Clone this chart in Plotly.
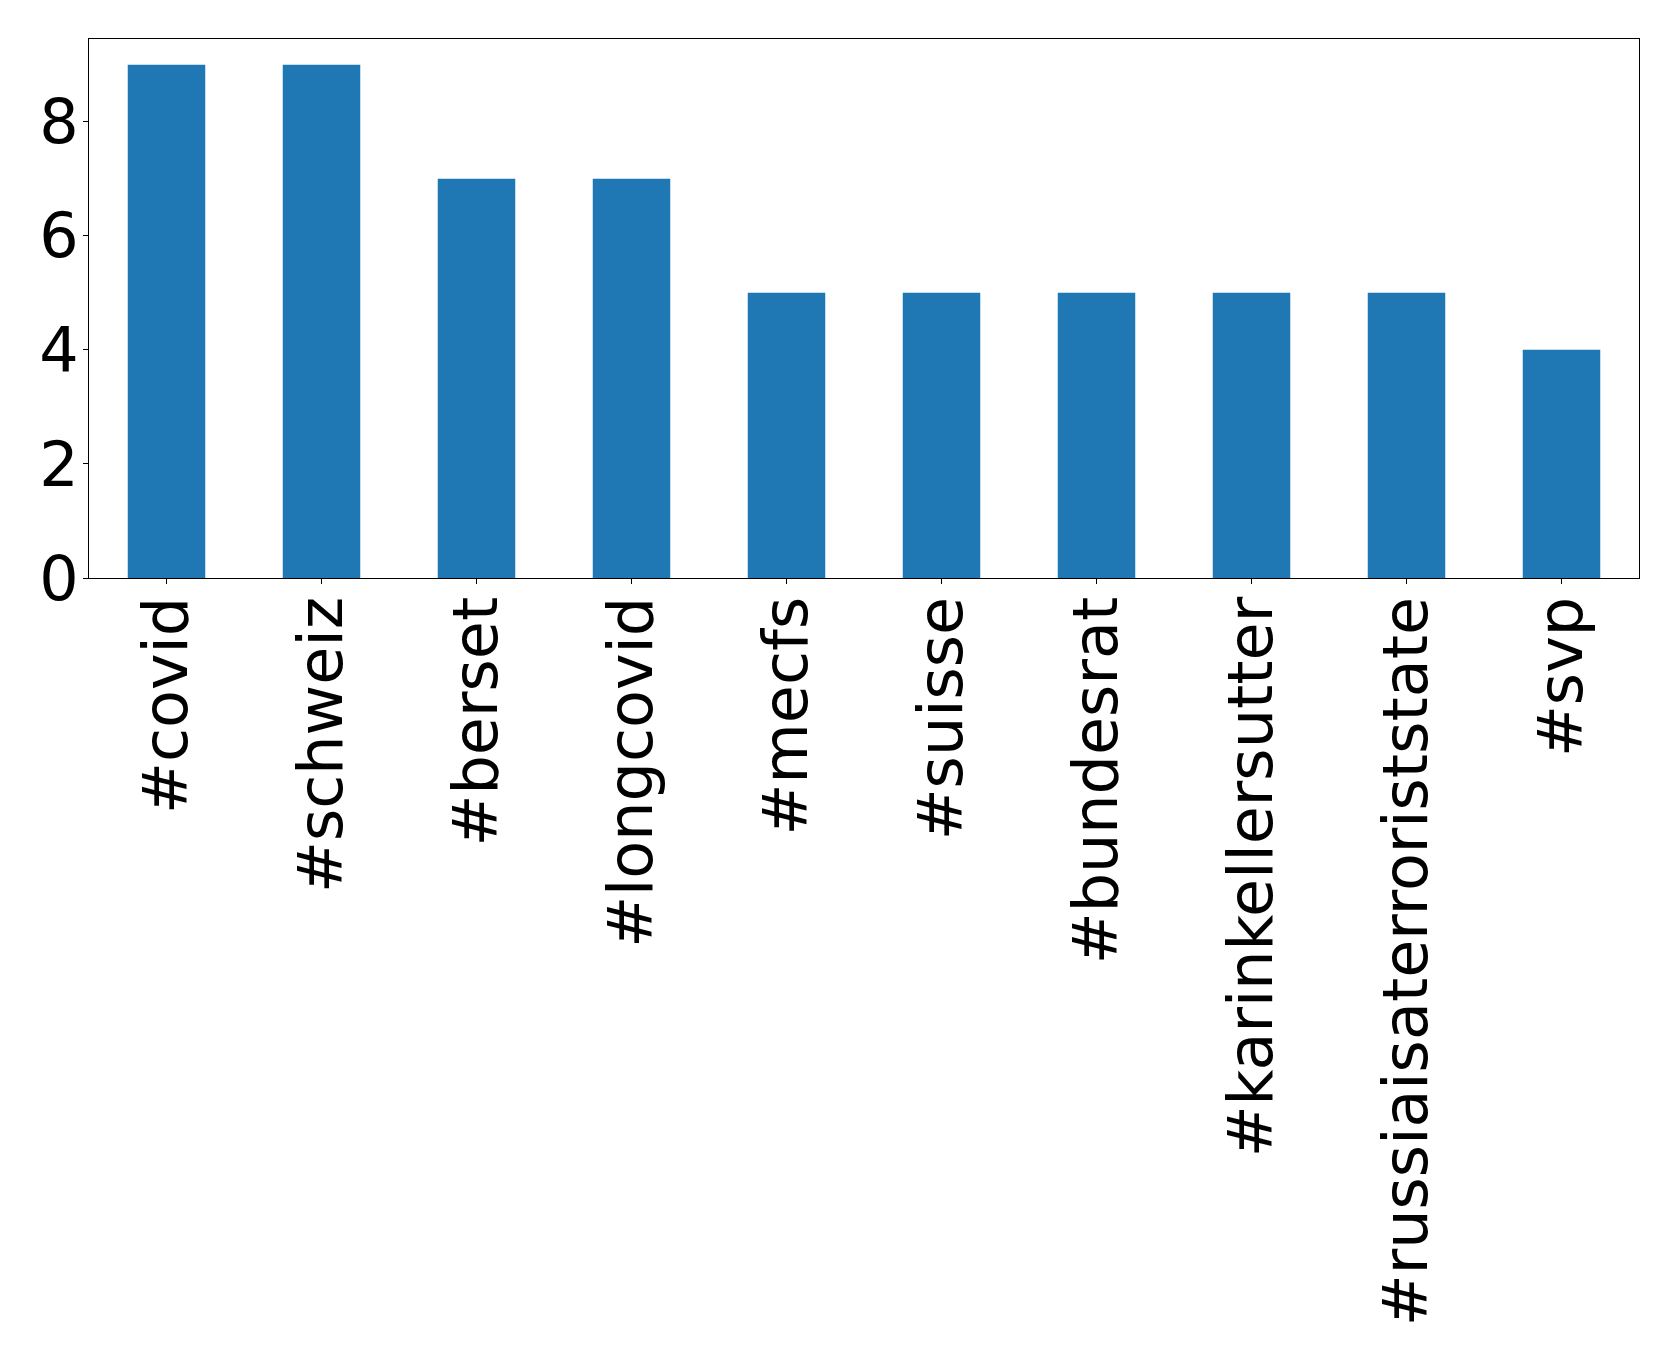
import plotly.graph_objects as go

categories = ["#covid", "#schweiz", "#berset", "#longcovid", "#mecfs", "#suisse",
              "#bundesrat", "#karinkellersutter", "#russiaisaterroriststate", "#svp"]
counts = [9, 9, 7, 7, 5, 5, 5, 5, 5, 4]
y_ticks = [0, 2, 4, 6, 8]

fig = go.Figure(go.Bar(x=categories, y=counts, marker_color="#1f77b4",
                       marker_line_width=0, width=0.5))

axis_common = dict(showline=True, linecolor="black", linewidth=1, mirror=True,
                   ticks="outside", ticklen=5, tickcolor="black", tickwidth=1,
                   showgrid=False, zeroline=False, automargin=False,
                   tickfont=dict(family="DejaVu Sans", size=62, color="black"))

# page body has an 8px default margin, so the figure is shrunk by 8px
fig.update_layout(
    width=1671, height=1355,
    margin=dict(l=81, r=40, t=31, b=785),
    paper_bgcolor="white", plot_bgcolor="white",
    showlegend=False,
    xaxis=dict(range=[-0.5, 9.5], tickangle=-90, ticklabelstandoff=-12, **axis_common),
    yaxis=dict(range=[0, 9.45], tickvals=y_ticks, ticklabelstandoff=-8, **axis_common),
)

fig.write_html("out.html")
